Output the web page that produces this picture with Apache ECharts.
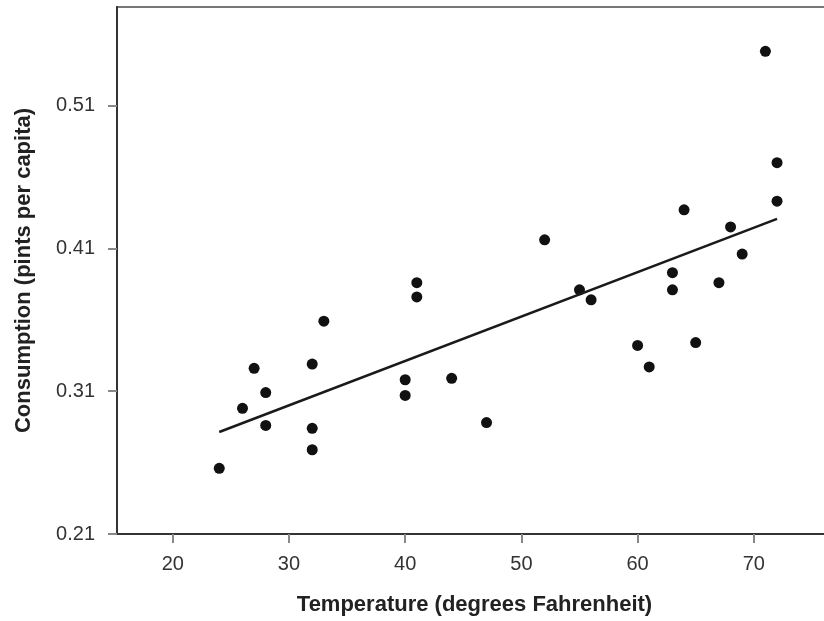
<!DOCTYPE html>
<html lang="en">
<head>
    <meta charset="utf-8">
    <title>Consumption vs Temperature</title>
    <script src="https://cdn.jsdelivr.net/npm/echarts@6/dist/echarts.min.js"></script>
</head>
<body style="margin: 0; overflow: hidden">
<!-- the plot box runs past the right edge of the window, so the div is wider than 824 -->
<div id="container" style="height: 621px; width: 871px"></div>
<script type="text/javascript">
    // temperature (deg F) and consumption (pints per capita)
    var temperature = [41, 56, 63, 68, 69, 65, 61, 47, 32, 24, 28, 26, 32, 40, 55,
                       63, 72, 72, 67, 60, 44, 40, 32, 27, 28, 33, 41, 52, 64, 71];
    var consumption = [0.386, 0.374, 0.393, 0.425, 0.406, 0.344, 0.327, 0.288, 0.269, 0.256,
                       0.286, 0.298, 0.329, 0.318, 0.381, 0.381, 0.470, 0.443, 0.386, 0.342,
                       0.319, 0.307, 0.284, 0.326, 0.309, 0.359, 0.376, 0.416, 0.437, 0.548];
    var xTicks = [20, 30, 40, 50, 60, 70];
    var yTicks = [0.21, 0.31, 0.41, 0.51];

    var points = [];
    for (var i = 0; i < temperature.length; i++) {
        points.push([temperature[i], consumption[i]]);
    }

    // least squares fit line, drawn over the data range
    var n = temperature.length, sx = 0, sy = 0, sxx = 0, sxy = 0;
    for (var i = 0; i < n; i++) {
        sx += temperature[i]; sy += consumption[i];
        sxx += temperature[i] * temperature[i]; sxy += temperature[i] * consumption[i];
    }
    var slope = (n * sxy - sx * sy) / (n * sxx - sx * sx);
    var icept = (sy - slope * sx) / n;
    var xLo = Math.min.apply(null, temperature), xHi = Math.max.apply(null, temperature);
    var fit = [[xLo, icept + slope * xLo], [xHi, icept + slope * xHi]];

    var font = '"Liberation Sans", Arial, sans-serif';
    var myChart = echarts.init(document.getElementById('container'));
    var option = {
        animation: false,
        grid: {
            left: 117, top: 7, bottom: 84, right: 1,
            show: true, borderColor: '#777', borderWidth: 2, backgroundColor: 'transparent'
        },
        xAxis: {
            type: 'value', min: 15.2, max: 80,
            name: 'Temperature (degrees Fahrenheit)', nameLocation: 'middle', nameGap: 60,
            // grid is wider than the window; pad right to pull the title back to the visible centre
            nameTextStyle: {fontFamily: font, fontWeight: 'bold', fontSize: 22, color: '#222',
                padding: [0, 38, 0, 0]},
            splitLine: {show: false},
            axisLine: {onZero: false, lineStyle: {color: '#333', width: 2}},
            axisTick: {customValues: xTicks, length: 9, lineStyle: {color: '#888', width: 2}},
            axisLabel: {customValues: xTicks, margin: 20, fontFamily: font, fontSize: 20, color: '#333'}
        },
        yAxis: {
            type: 'value', min: 0.21, max: 0.579,
            name: 'Consumption (pints per capita)', nameLocation: 'middle', nameGap: 82,
            nameTextStyle: {fontFamily: font, fontWeight: 'bold', fontSize: 22, color: '#222'},
            splitLine: {show: false},
            axisLine: {show: true, onZero: false, lineStyle: {color: '#333', width: 2}},
            axisTick: {show: true, customValues: yTicks, length: 9, lineStyle: {color: '#888', width: 2}},
            axisLabel: {customValues: yTicks, margin: 22, fontFamily: font, fontSize: 20, color: '#333',
                formatter: function (v) { return v.toFixed(2); }}
        },
        series: [
            {
                type: 'scatter', data: points, symbolSize: 11,
                itemStyle: {color: '#111', opacity: 1}
            },
            {
                type: 'line', data: fit, symbol: 'none',
                lineStyle: {color: '#1a1a1a', width: 2.5}
            }
        ]
    };
    myChart.setOption(option);
</script>
</body>
</html>
